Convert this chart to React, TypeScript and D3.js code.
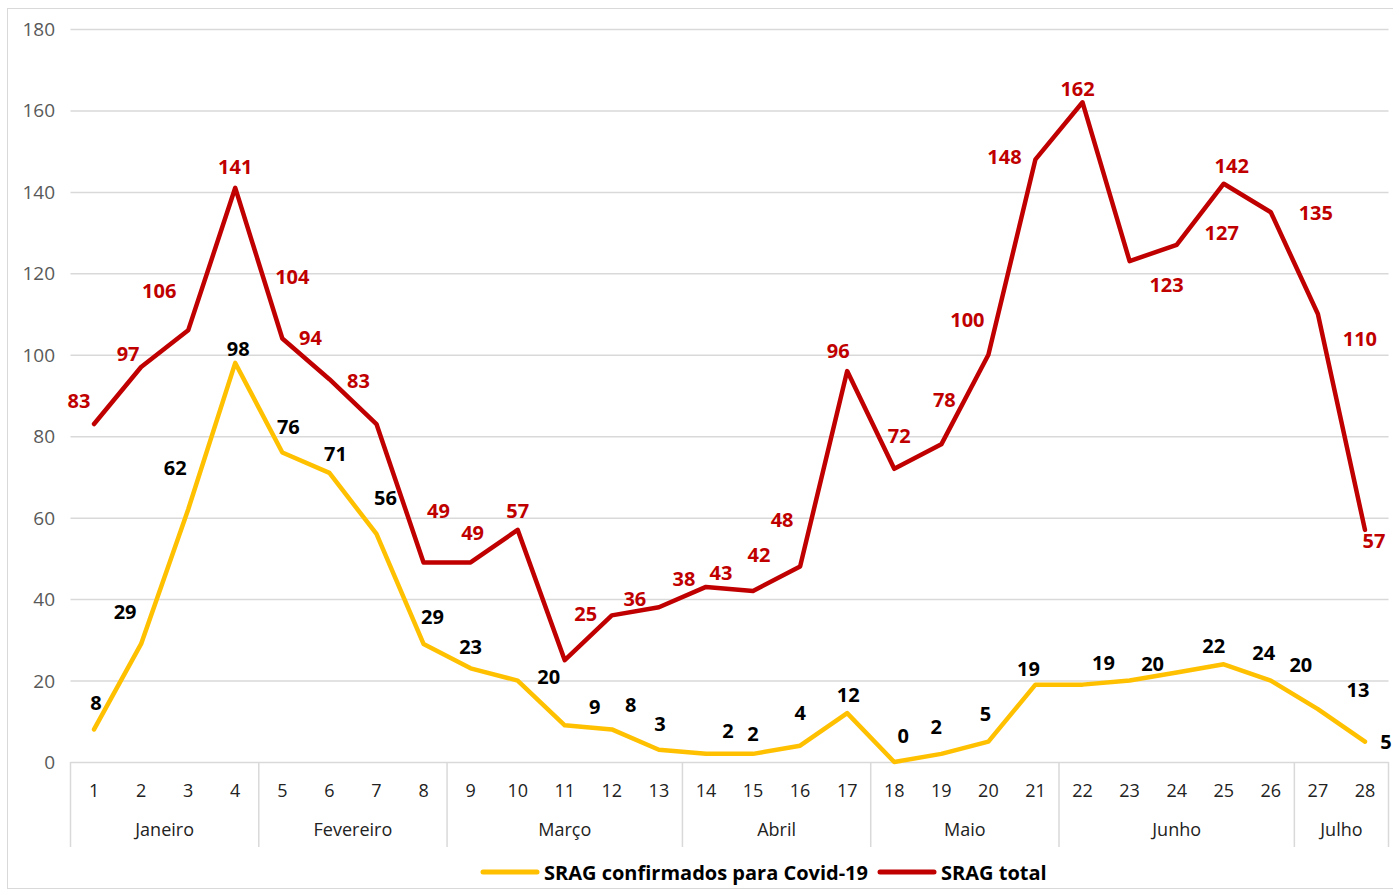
import React, { useEffect, useRef } from 'react';
import * as d3 from 'd3';

const weeks = d3.range(1, 29).map(String);
const months = [
  { name: 'Janeiro', from: 1, to: 4 },
  { name: 'Fevereiro', from: 5, to: 8 },
  { name: 'Março', from: 9, to: 13 },
  { name: 'Abril', from: 14, to: 17 },
  { name: 'Maio', from: 18, to: 21 },
  { name: 'Junho', from: 22, to: 26 },
  { name: 'Julho', from: 27, to: 28 },
];
const sragTotal = [83, 97, 106, 141, 104, 94, 83, 49, 49, 57, 25, 36, 38, 43, 42, 48, 96, 72, 78, 100, 148, 162, 123, 127, 142, 135, 110, 57];
const sragCovid = [8, 29, 62, 98, 76, 71, 56, 29, 23, 20, 9, 8, 3, 2, 2, 4, 12, 0, 2, 5, 19, 19, 20, 22, 24, 20, 13, 5];
const yTicks = [0, 20, 40, 60, 80, 100, 120, 140, 160, 180];

// label offsets (px) relative to each point, as placed in the original
const totalLabelOffset: [number, number][] = [
  [-15, -24], [-13, -13], [-29, -40], [0, -21], [10, -62], [-19, -42], [-18, -44], [15, -52],
  [2, -30], [0, -19], [21, -47], [23, -17], [25, -29], [15, -14], [6, -36], [-18, -47],
  [-9, -21], [5, -33], [3, -45], [-21, -35], [-31, -3], [-5, -14], [37, 23], [45, -12],
  [8, -18], [45, 0], [42, 24], [9, 11],
];
const covidLabelOffset: [number, number][] = [
  [2, -27], [-16, -32], [-13, -42], [3, -14], [6, -26], [6, -19], [9, -36], [9, -27],
  [0, -22], [31, -4], [30, -19], [19, -25], [1, -26], [22, -23], [0, -20], [0, -33],
  [1, -19], [9, -27], [-5, -27], [-3, -28], [-7, -16], [21, -22], [23, -17], [37, -27],
  [40, -12], [30, -16], [40, -20], [21, 0],
];

const RED = '#c00000';
const YELLOW = '#ffc000';
const FONT = "'Open Sans', 'Noto Sans', sans-serif";

export default function App() {
  const svgRef = useRef<SVGSVGElement>(null);
  const width = 1393;
  const height = 892;

  useEffect(() => {
    if (!svgRef.current) return;
    const svg = d3.select(svgRef.current);
    svg.selectAll('*').remove();

    const x = d3.scaleBand().domain(weeks).range([70.5, 1388.5]);
    const y = d3.scaleLinear().domain([0, 180]).range([762, 29]);
    const cx = (i: number) => (x(weeks[i]) as number) + x.bandwidth() / 2;

    // frame
    svg.append('rect')
      .attr('x', 7.5).attr('y', 8.5)
      .attr('width', 1400).attr('height', 880)
      .attr('fill', 'white')
      .attr('stroke', '#d9d9d9').attr('stroke-width', 1);

    // grid
    svg.append('g')
      .selectAll('line')
      .data(yTicks)
      .join('line')
      .attr('x1', 70.5).attr('x2', 1388.5)
      .attr('y1', d => y(d) + 0.5).attr('y2', d => y(d) + 0.5)
      .attr('stroke', '#d9d9d9').attr('stroke-width', 1.5);

    svg.append('g')
      .selectAll('text')
      .data(yTicks)
      .join('text')
      .attr('x', 55).attr('y', d => y(d))
      .attr('text-anchor', 'end')
      .attr('dominant-baseline', 'central')
      .style('font-family', FONT).style('font-size', '19px')
      .style('fill', '#595959')
      .text(d => d);

    // category axis
    const ax = svg.append('g');
    ax.selectAll('text.wk')
      .data(weeks)
      .join('text')
      .attr('class', 'wk')
      .attr('x', (d, i) => cx(i)).attr('y', 790)
      .attr('text-anchor', 'middle')
      .attr('dominant-baseline', 'central')
      .style('font-family', FONT).style('font-size', '18px')
      .style('fill', '#222')
      .text(d => d);

    const bounds = [months[0].from - 1, ...months.map(m => m.to)];
    ax.selectAll('line.sep')
      .data(bounds)
      .join('line')
      .attr('class', 'sep')
      .attr('x1', d => x.range()[0] + d * x.bandwidth())
      .attr('x2', d => x.range()[0] + d * x.bandwidth())
      .attr('y1', 762).attr('y2', 847)
      .attr('stroke', '#d9d9d9').attr('stroke-width', 1.5);

    ax.selectAll('text.mo')
      .data(months)
      .join('text')
      .attr('class', 'mo')
      .attr('x', m => (cx(m.from - 1) + cx(m.to - 1)) / 2)
      .attr('y', 829)
      .attr('text-anchor', 'middle')
      .attr('dominant-baseline', 'central')
      .style('font-family', FONT).style('font-size', '18px')
      .style('fill', '#222')
      .text(m => m.name);

    const line = d3.line<number>().x((d, i) => cx(i)).y(d => y(d));

    svg.append('path')
      .datum(sragCovid)
      .attr('fill', 'none').attr('stroke', YELLOW)
      .attr('stroke-width', 4.5).attr('stroke-linejoin', 'round').attr('stroke-linecap', 'round')
      .attr('d', line);

    svg.append('path')
      .datum(sragTotal)
      .attr('fill', 'none').attr('stroke', RED)
      .attr('stroke-width', 4.5).attr('stroke-linejoin', 'round').attr('stroke-linecap', 'round')
      .attr('d', line);

    const labels = (vals: number[], off: [number, number][], color: string) =>
      svg.append('g')
        .selectAll('text')
        .data(vals)
        .join('text')
        .attr('x', (d, i) => cx(i) + off[i][0])
        .attr('y', (d, i) => y(d) + off[i][1])
        .attr('text-anchor', 'middle')
        .attr('dominant-baseline', 'central')
        .style('font-family', FONT).style('font-size', '20px').style('font-weight', 'bold')
        .style('fill', color)
        .text(d => d);

    labels(sragCovid, covidLabelOffset, '#000');
    labels(sragTotal, totalLabelOffset, RED);

    // legend
    const lg = svg.append('g').attr('transform', 'translate(0,872)');
    const items = [
      { label: 'SRAG confirmados para Covid-19', color: YELLOW, x: 483 },
      { label: 'SRAG total', color: RED, x: 880 },
    ];
    items.forEach(it => {
      lg.append('line')
        .attr('x1', it.x).attr('x2', it.x + 54).attr('y1', 0).attr('y2', 0)
        .attr('stroke', it.color).attr('stroke-width', 5).attr('stroke-linecap', 'round');
      lg.append('text')
        .attr('x', it.x + 61).attr('y', 0)
        .attr('dominant-baseline', 'central')
        .style('font-family', FONT).style('font-size', '20px').style('font-weight', 'bold')
        .style('fill', '#000')
        .text(it.label);
    });
  }, []);

  return (
    <div style={{ position: 'absolute', left: 0, top: 0, width, height, overflow: 'hidden', background: 'white' }}>
      <svg ref={svgRef} width={width} height={height} />
    </div>
  );
}
